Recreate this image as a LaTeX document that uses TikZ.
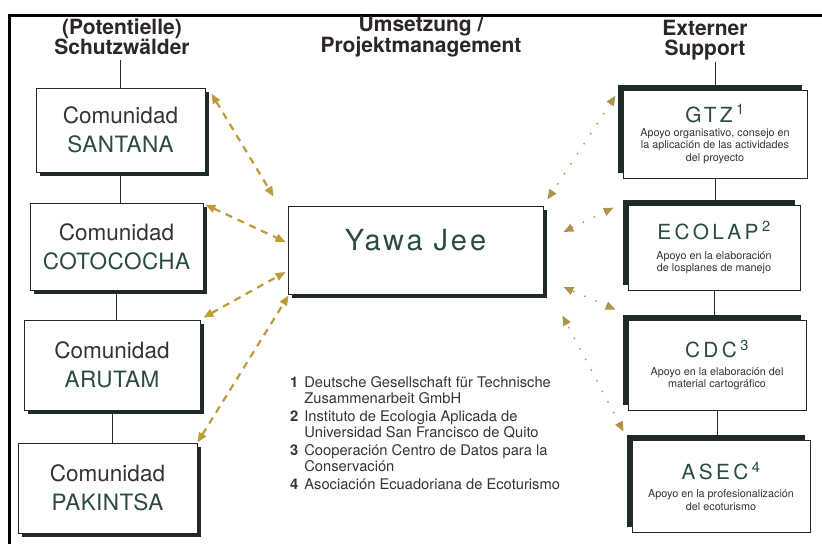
\documentclass[tikz,border=0pt]{standalone}
\usepackage{fontspec}
\setmainfont{TeX Gyre Heros}
\usetikzlibrary{arrows.meta,shadows}
\definecolor{arrowgold}{HTML}{BE9A38}
\definecolor{boxshade}{HTML}{1F2B28}
\definecolor{nametext}{HTML}{2B4B42}
\definecolor{headtext}{HTML}{2E2626}
\definecolor{plaintext}{HTML}{363333}

\begin{document}
\begin{tikzpicture}[x=1pt,y=-1pt,
    comm/.style={draw=black!85,fill=white,line width=0.8pt,align=center,inner sep=0pt,text=plaintext,
        font=\fontsize{22.5}{29}\selectfont,
        drop shadow={shadow xshift=4pt,shadow yshift=-4pt,fill=boxshade,opacity=1}},
    supp/.style={draw=black!85,fill=white,line width=0.8pt,align=center,inner sep=0pt,text=plaintext,
        font=\fontsize{10.8}{12.2}\selectfont,
        drop shadow={shadow xshift=-5pt,shadow yshift=5pt,fill=boxshade,opacity=1}},
    head/.style={font=\bfseries\fontsize{21}{20}\selectfont,text=headtext,align=center,inner sep=0pt,outer sep=5pt},
    link/.style={line width=0.8pt,draw=headtext},
    dashlink/.style={{Triangle[width=8pt,length=10pt]}-{Triangle[width=8pt,length=10pt]},
        arrowgold,line width=2.2pt,dash pattern=on 7pt off 6pt},
    dotlink/.style={{Triangle[width=8pt,length=10pt]}-{Triangle[width=8pt,length=10pt]},
        arrowgold!75!gray,line width=2pt,dash pattern=on 0pt off 12pt,line cap=round}
]
    % basics
    \useasboundingbox (0,0) rectangle (822,544);
    \draw[line width=3pt] (822,15) -- (9,15) -- (9,544);

    \newcommand{\cname}[1]{{\color{nametext}\addfontfeatures{LetterSpace=2}#1}}
    \newcommand{\stitle}[2]{{\fontsize{20.8}{20}\selectfont\color{nametext}\addfontfeatures{LetterSpace=16}#1\,\textsuperscript{#2}}}

    % headers
    \node[head] (lhead) at (122,37) {(Potentielle)\\Schutzwälder};
    \node[head] (mhead) at (421,37) {Umsetzung /\\Projektmanagement};
    \node[head,outer sep=2pt] (rhead) at (705,40) {Externer\\Support};

    % left column
    \node[comm,minimum width=169pt,minimum height=84pt] (santana) at (120.5,130) {Comunidad\\\cname{SANTANA}};
    \node[comm,minimum width=173pt,minimum height=87pt] (cotococha) at (116.5,246.5) {Comunidad\\\cname{COTOCOCHA}};
    \node[comm,minimum width=176pt,minimum height=90pt] (arutam) at (112,365) {Comunidad\\\cname{ARUTAM}};
    \node[comm,minimum width=179pt,minimum height=90pt] (pakintsa) at (107.5,488) {Comunidad\\\cname{PAKINTSA}};

    \draw[link] (santana.north |- lhead.south) -- (santana.north);
    \draw[link] (santana.south) -- (santana.south |- cotococha.north);
    \draw[link] (cotococha.south) -- (cotococha.south |- arutam.north);
    \draw[link] (arutam.south) -- (arutam.south |- pakintsa.north);

    % project management
    \node[comm,minimum width=255pt,minimum height=88pt,text depth=21pt,text=nametext,
        font=\fontsize{29}{30}\selectfont\addfontfeatures{LetterSpace=10}] (yawa) at (415.5,250) {Yawa Jee};

    % right column
    \node[supp,minimum width=184pt,minimum height=88pt] (gtz) at (715,134)
        {\stitle{GTZ}{1}\\[2pt]Apoyo organisativo, consejo en\\la aplicación de las actividades\\del proyecto};
    \node[supp,minimum width=172pt,minimum height=85pt] (ecolap) at (714,247.5)
        {\stitle{ECOLAP}{2}\\[8pt]Apoyo en la elaboración\\de losplanes de manejo};
    \node[supp,minimum width=178pt,minimum height=90pt] (cdc) at (717,365)
        {\stitle{CDC}{3}\\[6pt]Apoyo en la elaboración del\\material cartográfico};
    \node[supp,minimum width=178pt,minimum height=92pt] (asec) at (721,486)
        {\stitle{ASEC}{4}\\[6pt]Apoyo en la profesionalización\\del ecoturismo};

    \draw[link] (gtz.north |- rhead.south) -- (gtz.north);
    \draw[link] (gtz.south) -- (gtz.south |- ecolap.north);
    \draw[link] (ecolap.south) -- (ecolap.south |- cdc.north);
    \draw[link] (cdc.south) -- (cdc.south |- asec.north);

    % dashed links to the communities
    \draw[dashlink] ([xshift=6pt,yshift=-6pt]santana.north east) -- ([xshift=-14pt,yshift=9pt]yawa.north west);
    \draw[dashlink] ([xshift=2pt,yshift=-2pt]cotococha.north east) -- ([xshift=-2pt,yshift=8pt]yawa.west);
    \draw[dashlink] ([xshift=3pt,yshift=2pt]arutam.north east) -- ([xshift=-2pt,yshift=-22pt]yawa.west);
    \draw[dashlink] (pakintsa.north east) -- ([xshift=1pt,yshift=-1pt]yawa.south west);

    % dotted links to the support
    \draw[dotlink] ([xshift=-7pt,yshift=-6pt]gtz.north west) -- ([xshift=4pt,yshift=6pt]yawa.north east);
    \draw[dotlink] ([xshift=-14pt,yshift=-3pt]ecolap.north west) -- ([xshift=20pt,yshift=18pt]yawa.east);
    \draw[dotlink] ([xshift=-12pt,yshift=10pt]cdc.north west) -- ([xshift=20pt,yshift=-37pt]yawa.east);
    \draw[dotlink] ([xshift=-8pt,yshift=8pt]asec.north west) -- ([xshift=19pt,yshift=-21pt]yawa.south east);

    % footnotes
    \node[anchor=north west,inner sep=0pt,text=plaintext,font=\fontsize{14.7}{16}\selectfont] (notes) at (290,376)
        {\begin{tabular}{@{}r@{\hspace{6pt}}l@{}}
            \textbf{1} & Deutsche Gesellschaft für Technische\\
                       & Zusammenarbeit GmbH\\[2pt]
            \textbf{2} & Instituto de Ecologia Aplicada de\\
                       & Universidad San Francisco de Quito\\[2pt]
            \textbf{3} & Cooperación Centro de Datos para la\\
                       & Conservación\\[2pt]
            \textbf{4} & Asociación Ecuadoriana de Ecoturismo
        \end{tabular}};
\end{tikzpicture}
\end{document}
